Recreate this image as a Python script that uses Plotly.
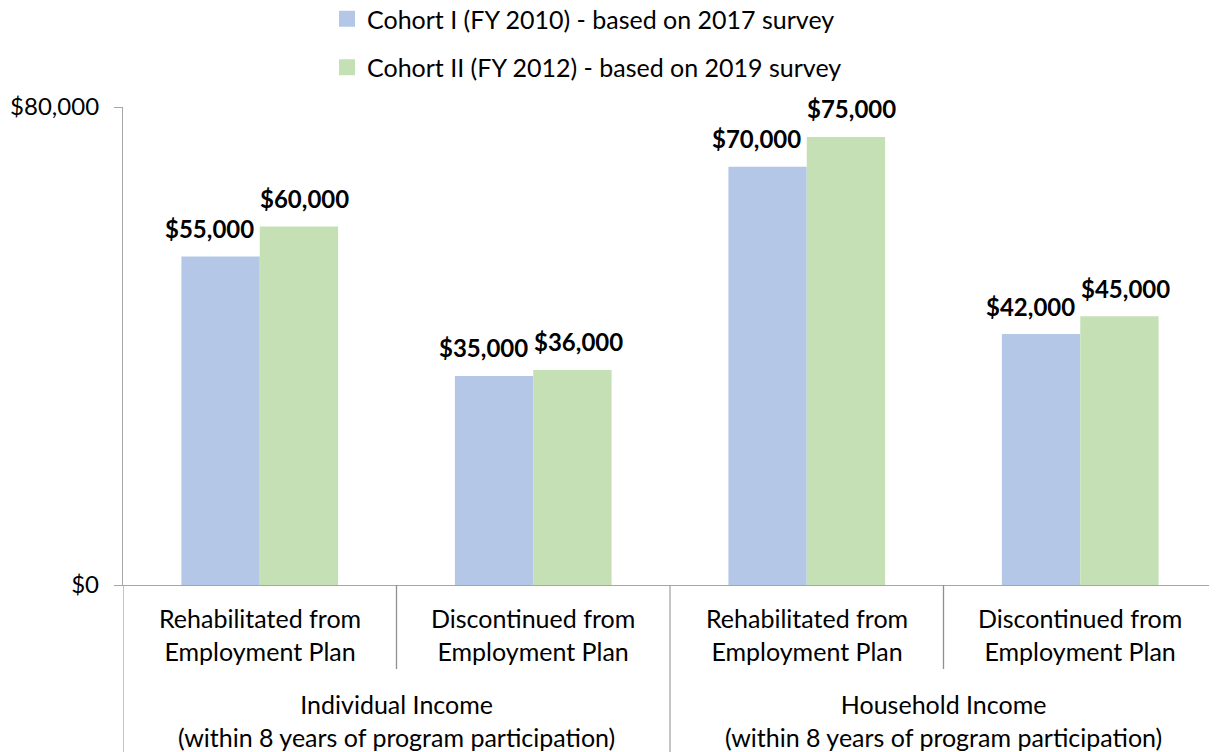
import plotly.graph_objects as go

# Data
inner_labels = ["Rehabilitated from<br>Employment Plan", "Discontinued from<br>Employment Plan",
                "Rehabilitated from<br>Employment Plan", "Discontinued from<br>Employment Plan"]
outer_labels = ["Individual Income<br>(within 8 years of program participation)",
                "Household Income<br>(within 8 years of program participation)"]
cohort1 = [55000, 35000, 70000, 42000]
cohort2 = [60000, 36000, 75000, 45000]
series_names = ["Cohort I (FY 2010) - based on 2017 survey", "Cohort II (FY 2012) - based on 2019 survey"]
y_ticks = [0, 80000]
y_ticktext = ["$0", "$80,000"]

FONT = "Lato"
BLUE = "#B4C7E7"
GREEN = "#C5E0B4"
LINE = "#A6A6A6"
SEP = "#909090"
BARGAP = 0.427

W, H = 1209, 744
ML, MR, MT, MB = 115, 0, 99, 167
PH = H - MT - MB
PW = W - ML - MR

xs = list(range(len(cohort1)))

def fmt(v):
    return "${:,.0f}".format(v)

fig = go.Figure()
for i, (vals, col) in enumerate([(cohort1, BLUE), (cohort2, GREEN)]):
    fig.add_trace(go.Bar(
        x=xs, y=vals, name=series_names[i], marker_color=col, marker_line_width=0,
        showlegend=False, hoverinfo="x+y",
    ))
# legend entries with larger square swatches
for i, col in enumerate([BLUE, GREEN]):
    fig.add_trace(go.Scatter(
        x=[None], y=[None], mode="markers", name=series_names[i],
        marker=dict(symbol="square", size=16, color=col), legendgroup=f"g{i}",
    ))

# data labels
half = (1 - BARGAP) / 4
for i, (vals, sign, xsh) in enumerate([(cohort1, -1, -11), (cohort2, 1, 6)]):
    for k, v in enumerate(vals):
        fig.add_annotation(x=xs[k] + sign * half, y=v, xref="x", yref="y", text="<b>" + fmt(v) + "</b>",
                           showarrow=False, yanchor="middle", yshift=28, xshift=xsh,
                           font=dict(family=FONT, size=24, color="black"))

fig.update_layout(
    width=W, height=H,
    margin=dict(l=ML, r=MR, t=MT, b=MB, autoexpand=False),
    paper_bgcolor="white", plot_bgcolor="white",
    barmode="group", bargap=BARGAP, bargroupgap=0,
    font=dict(family=FONT, size=25, color="black"),
    showlegend=True,
    legend=dict(x=(319 - ML) / PW, xanchor="left", y=1 + (MT + 12) / PH, yanchor="top",
                orientation="v", tracegroupgap=13, font=dict(family=FONT, size=25),
                bgcolor="rgba(0,0,0,0)"),
)
fig.update_xaxes(range=[-0.5, len(xs) - 0.5], showticklabels=False, ticks="", showgrid=False,
                 zeroline=False, showline=True, linecolor=LINE, linewidth=1.3, automargin=False)
fig.update_yaxes(range=[0, 80000], tickvals=y_ticks, ticktext=y_ticktext, ticks="outside",
                 ticklen=8, tickcolor=LINE, showgrid=False, zeroline=False, showline=True,
                 linecolor=LINE, linewidth=1.3, ticklabelstandoff=10, automargin=False,
                 tickfont=dict(family=FONT, size=24, color="black"))

# Category separators (Excel-style multi-level axis)
short_end = -84 / PH
long_end = -MB / PH
n = len(xs)
for k in range(n + 1):
    xb = k - 0.5
    is_long = (k % 2 == 0)
    fig.add_shape(type="line", xref="x", yref="paper", x0=xb, x1=xb, y0=0,
                  y1=long_end if is_long else short_end,
                  line=dict(color=SEP if not is_long else LINE, width=1.3))

for i, lab in enumerate(inner_labels):
    fig.add_annotation(x=xs[i], y=0, xref="x", yref="paper", text=lab, showarrow=False,
                       yanchor="middle", yshift=-49, font=dict(family=FONT, size=25, color="black"))
for j, lab in enumerate(outer_labels):
    fig.add_annotation(x=2 * j + 0.5, y=0, xref="x", yref="paper", text=lab, showarrow=False,
                       yanchor="middle", yshift=-135, font=dict(family=FONT, size=25, color="black"))

fig.write_html("out.html")
